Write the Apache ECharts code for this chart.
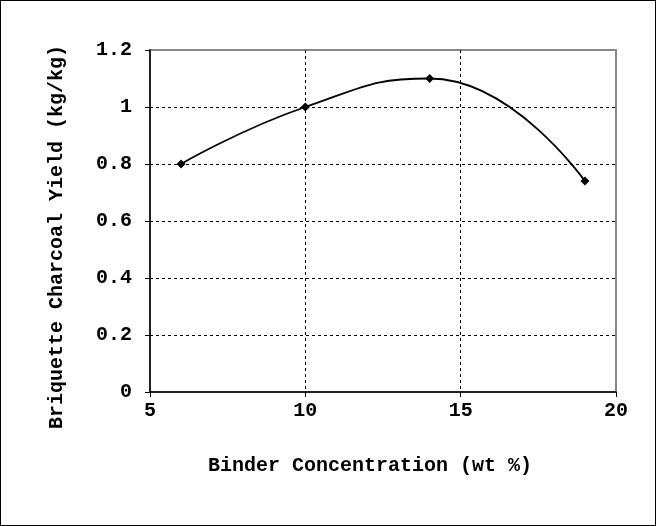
<!DOCTYPE html>
<html>
<head>
<meta charset="utf-8">
<script src="https://cdn.jsdelivr.net/npm/echarts@6/dist/echarts.min.js"></script>
<style>
  html, body { margin: 0; padding: 0; background: #fff; }
  #chart { width: 654px; height: 524px; border: 1px solid #000; }
</style>
</head>
<body>
<div id="chart"></div>
<script>
// binder concentration (wt %) and charcoal yield (kg/kg)
const binderConc = [6, 10, 14, 19]
const charcoalYield = [0.8, 1.0, 1.1, 0.74]

const xTitle = 'Binder Concentration (wt %)'
const yTitle = 'Briquette Charcoal Yield (kg/kg)'

const font = '"Liberation Mono", "Courier New", monospace'

const chart = echarts.init(document.getElementById('chart'))

chart.setOption({
  animation: false,
  grid: {
    left: 149,
    right: 39,
    top: 49,
    bottom: 133,
    show: true,
    borderColor: '#888',
    borderWidth: 2
  },
  xAxis: {
    type: 'value',
    min: 5,
    max: 20,
    interval: 5,
    name: xTitle,
    nameLocation: 'middle',
    nameGap: 64,
    nameTextStyle: {
      fontFamily: font,
      fontWeight: 'bold',
      fontSize: 20,
      color: '#000',
      padding: [0, 26, 0, 0]
    },
    axisLine: { lineStyle: { color: '#000', width: 1.5 } },
    axisTick: { show: true, length: 5, lineStyle: { color: '#000' } },
    axisLabel: {
      fontFamily: font,
      fontWeight: 'bold',
      fontSize: 20,
      color: '#000',
      margin: 9
    },
    splitLine: {
      show: true,
      showMinLine: false,
      showMaxLine: false,
      lineStyle: { color: '#000', type: [3, 3], width: 1 }
    }
  },
  yAxis: {
    type: 'value',
    min: 0,
    max: 1.2,
    interval: 0.2,
    name: yTitle,
    nameLocation: 'middle',
    nameGap: 83,
    nameTextStyle: {
      fontFamily: font,
      fontWeight: 'bold',
      fontSize: 20,
      color: '#000',
      padding: [0, 32, 0, 0]
    },
    axisLine: { show: true, lineStyle: { color: '#000', width: 1.5 } },
    axisTick: { show: true, length: 5, lineStyle: { color: '#000' } },
    axisLabel: {
      fontFamily: font,
      fontWeight: 'bold',
      fontSize: 20,
      color: '#000',
      margin: 18,
      formatter: (v) => String(Math.round(v * 10) / 10)
    },
    splitLine: {
      show: true,
      showMinLine: false,
      showMaxLine: false,
      lineStyle: { color: '#000', type: [3, 3], width: 1 }
    }
  },
  series: [
    {
      type: 'line',
      data: binderConc.map((x, i) => [x, charcoalYield[i]]),
      smooth: 0.5,
      symbol: 'diamond',
      symbolSize: 9,
      itemStyle: { color: '#000' },
      lineStyle: { color: '#000', width: 1.8 }
    }
  ]
})
</script>
</body>
</html>
